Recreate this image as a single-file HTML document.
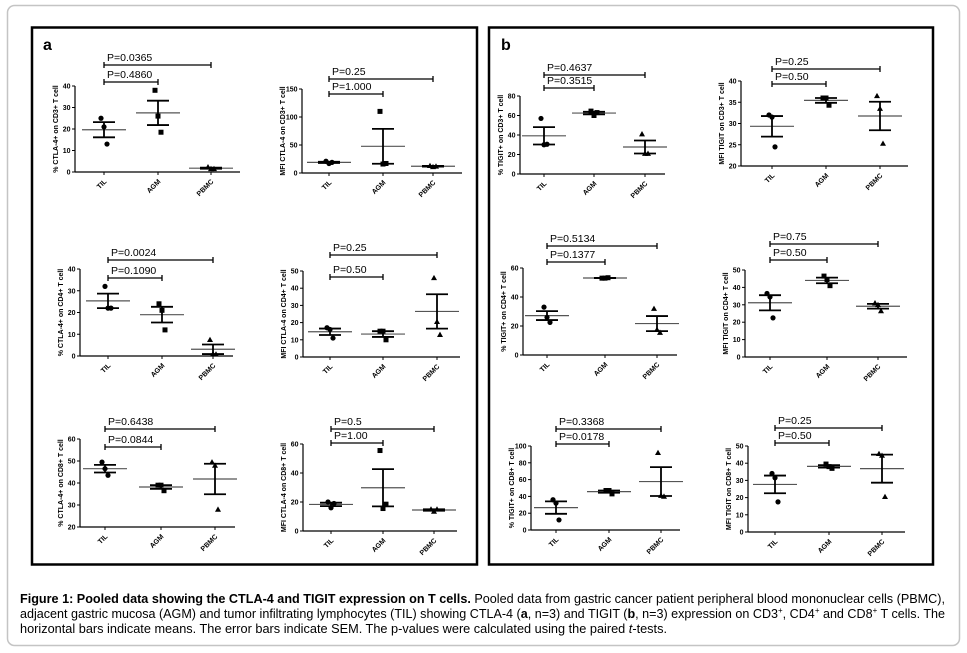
<!DOCTYPE html>
<html><head><meta charset="utf-8"><style>
body{margin:0;background:#fff;}
svg{display:block;font-family:"Liberation Sans",Arial,sans-serif;}
.tk{font-size:7px;font-weight:bold;}
.pv{font-size:10.5px;}
.cap{font-size:12.6px;}
</style></head><body>
<svg id="fig" width="967" height="653" viewBox="0 0 967 653">
<rect x="7.5" y="5.5" width="952" height="640" rx="7" fill="none" stroke="#c4c4c4" stroke-width="1.5"/>
<rect x="32" y="27.5" width="445" height="537" fill="none" stroke="#000" stroke-width="2.5"/>
<rect x="489" y="27.5" width="444" height="537" fill="none" stroke="#000" stroke-width="2.5"/>
<text x="43" y="50" font-size="16" font-weight="bold">a</text>
<text x="501" y="50" font-size="16" font-weight="bold">b</text>
<g id="plots"></g>
<text class="cap" x="20" y="603" textLength="925" lengthAdjust="spacingAndGlyphs"><tspan font-weight="bold">Figure 1: Pooled data showing the CTLA-4 and TIGIT expression on T cells.</tspan> Pooled data from gastric cancer patient peripheral blood mononuclear cells (PBMC),</text>
<text class="cap" x="20" y="618" textLength="925" lengthAdjust="spacingAndGlyphs">adjacent gastric mucosa (AGM) and tumor infiltrating lymphocytes (TIL) showing CTLA-4 (<tspan font-weight="bold">a</tspan>, n=3) and TIGIT (<tspan font-weight="bold">b</tspan>, n=3) expression on CD3<tspan font-size="8" dy="-5">+</tspan><tspan dy="5">, CD4</tspan><tspan font-size="8" dy="-5">+</tspan><tspan dy="5"> and CD8</tspan><tspan font-size="8" dy="-5">+</tspan><tspan dy="5"> T cells. The</tspan></text>
<text class="cap" x="20" y="633" textLength="647" lengthAdjust="spacingAndGlyphs">horizontal bars indicate means. The error bars indicate SEM. The p-values were calculated using the paired <tspan font-style="italic">t</tspan>-tests.</text>
</svg>
<script>
const categories = ["TIL","AGM","PBMC"];
// data values per panel: [TIL points, AGM points, PBMC points]
const a1Values = [[25,21,13],[38,26,18.5],[2.3,1.5,1.5]];
const a2Values = [[21,17,19],[110,16,17],[13,11,12]];
const a3Values = [[32,22,22],[24,21,12],[7.5,1,0.8]];
const a4Values = [[17,16,11],[15,15,10],[46,20.5,13]];
const a5Values = [[49.5,46.5,43.5],[39,39,36.5],[49.5,48,28]];
const a6Values = [[20,16,19],[55.5,15.5,18.5],[15,13.5,15]];
const b1Values = [[57,30,30.5],[64.5,60,63],[41,21,21]];
const b2Values = [[32,31.5,24.5],[36,36,34.3],[36.5,33.5,25.3]];
const b3Values = [[33,26,22.5],[53,53,53.3],[32,17.5,15.5]];
const b4Values = [[36.5,34.5,22.5],[46.5,44.5,41],[31,30,26.5]];
const b5Values = [[36,32,12],[47,47,43],[92,41,40]];
const b6Values = [[34,31.5,17.5],[39.5,38,37],[45.5,44.5,20.5]];
// y tick labels
const a1Ticks=[0,10,20,30,40], a2Ticks=[0,50,100,150], a3Ticks=[0,10,20,30,40], a4Ticks=[0,10,20,30,40,50];
const a5Ticks=[20,30,40,50,60], a6Ticks=[0,20,40,60], b1Ticks=[0,20,40,60,80], b2Ticks=[20,25,30,35,40];
const b3Ticks=[0,20,40,60], b4Ticks=[0,10,20,30,40,50], b5Ticks=[0,20,40,60,80,100], b6Ticks=[0,10,20,30,40,50];
// p-values: [TIL vs AGM, TIL vs PBMC]
const a1P=["P=0.4860","P=0.0365"], a2P=["P=1.000","P=0.25"], a3P=["P=0.1090","P=0.0024"], a4P=["P=0.50","P=0.25"];
const a5P=["P=0.0844","P=0.6438"], a6P=["P=1.00","P=0.5"], b1P=["P=0.3515","P=0.4637"], b2P=["P=0.50","P=0.25"];
const b3P=["P=0.1377","P=0.5134"], b4P=["P=0.50","P=0.75"], b5P=["P=0.0178","P=0.3368"], b6P=["P=0.50","P=0.25"];
const titles = {
 a1:"% CTLA-4+ on CD3+ T cell", a2:"MFI CTLA-4 on CD3+ T cell", a3:"% CTLA-4+ on CD4+ T cell",
 a4:"MFI CTLA-4 on CD4+ T cell", a5:"% CTLA-4+ on CD8+ T cell", a6:"MFI CTLA-4 on CD8+ T cell",
 b1:"% TIGIT+ on CD3+ T cell", b2:"MFI TIGIT on CD3+ T cell", b3:"% TIGIT+ on CD4+ T cell",
 b4:"MFI TIGIT on CD4+ T cell", b5:"% TIGIT+ on CD8+ T cell", b6:"MFI TIGIT on CD8+ T cell"};

// layout (pixel geometry)
const layout = [
 {id:"a1",v:a1Values,t:a1Ticks,p:a1P,ax:75,yT:86,y0:172,cx:[104,158,211],xe:240,b1:82,b2:65},
 {id:"a2",v:a2Values,t:a2Ticks,p:a2P,ax:302,yT:89,y0:173,cx:[329,383,433],xe:462,b1:94,b2:79},
 {id:"a3",v:a3Values,t:a3Ticks,p:a3P,ax:80,yT:269,y0:356,cx:[108,162,213],xe:233,b1:278,b2:260},
 {id:"a4",v:a4Values,t:a4Ticks,p:a4P,ax:303,yT:271,y0:357,cx:[330,383,437],xe:460,b1:277,b2:255},
 {id:"a5",v:a5Values,t:a5Ticks,p:a5P,ax:80,yT:439,y0:527,cx:[105,161,215],xe:235,b1:447,b2:429},
 {id:"a6",v:a6Values,t:a6Ticks,p:a6P,ax:303,yT:444,y0:531,cx:[331,383,434],xe:457,b1:443,b2:429},
 {id:"b1",v:b1Values,t:b1Ticks,p:b1P,ax:520,yT:96,y0:174,cx:[544,594,645],xe:665,b1:88,b2:75},
 {id:"b2",v:b2Values,t:b2Ticks,p:b2P,ax:741,yT:81,y0:166,cx:[772,826,880],xe:908,b1:84,b2:69},
 {id:"b3",v:b3Values,t:b3Ticks,p:b3P,ax:523,yT:268,y0:355,cx:[547,605,657],xe:677,b1:262,b2:246},
 {id:"b4",v:b4Values,t:b4Ticks,p:b4P,ax:745,yT:270,y0:357,cx:[770,827,878],xe:907,b1:260,b2:244},
 {id:"b5",v:b5Values,t:b5Ticks,p:b5P,ax:531,yT:446,y0:530,cx:[556,609,661],xe:680,b1:444,b2:429},
 {id:"b6",v:b6Values,t:b6Ticks,p:b6P,ax:748,yT:446,y0:532,cx:[775,829,882],xe:905,b1:443,b2:428}
];
const NS="http://www.w3.org/2000/svg";
const root=document.getElementById("plots");
function mk(tag,attrs,parent){const e=document.createElementNS(NS,tag);for(const k in attrs)e.setAttribute(k,attrs[k]);parent.appendChild(e);return e;}
const jit=[-3,0,3];
layout.forEach(L=>{
  const g=mk("g",{},root);
  
  
  const tMin=L.t[0], tMax=L.t[L.t.length-1];
  const y=v=>L.y0-(v-tMin)/(tMax-tMin)*(L.y0-L.yT);
  const ya=mk("line",{x1:L.ax,y1:L.yT,x2:L.ax,y2:L.y0,stroke:"#000","stroke-width":1.2},g);
  
  
  const xa=mk("line",{x1:L.ax,y1:L.y0,x2:L.xe,y2:L.y0,stroke:"#000","stroke-width":1.2},g);
  
  
  L.t.forEach(tv=>{
    mk("line",{x1:L.ax-3,y1:y(tv),x2:L.ax,y2:y(tv),stroke:"#000","stroke-width":1},g);
    const tt=mk("text",{x:L.ax-4.5,y:y(tv)+2.5,"text-anchor":"end",class:"tk"},g);
    tt.textContent=tv;
    
    
  });
  const my=(L.yT+L.y0)/2, tx=L.ax-17;
  const yt=mk("text",{x:tx,y:my,transform:`rotate(-90 ${tx} ${my})`,"text-anchor":"middle",class:"tk"},g);
  yt.textContent=titles[L.id];
  
  
  categories.forEach((c,i)=>{
    const cx=L.cx[i];
    mk("line",{x1:cx,y1:L.y0,x2:cx,y2:L.y0+3,stroke:"#000","stroke-width":1},g);
    const lx=cx+3, ly=L.y0+10;
    const ct=mk("text",{x:lx,y:ly,transform:`rotate(-45 ${lx} ${ly})`,"text-anchor":"end",class:"tk"},g);
    ct.textContent=c;
    
    
    const vals=L.v[i];
    const n=vals.length, mean=vals.reduce((a,b)=>a+b,0)/n;
    const sd=Math.sqrt(vals.reduce((a,b)=>a+(b-mean)*(b-mean),0)/(n-1));
    const sem=sd/Math.sqrt(n);
    const ml=mk("line",{x1:cx-22,y1:y(mean),x2:cx+22,y2:y(mean),stroke:"#555","stroke-width":1.2},g);
    
    
    const eb=mk("path",{d:`M${cx} ${y(mean+sem)}V${y(mean-sem)}M${cx-11} ${y(mean+sem)}H${cx+11}M${cx-11} ${y(mean-sem)}H${cx+11}`,stroke:"#000","stroke-width":1.8,fill:"none"},g);
    
    
    vals.forEach((v,k)=>{
      const px=cx+jit[k], py=y(v);
      let m;
      if(i===0) m=mk("circle",{cx:px,cy:py,r:2.6,fill:"#000"},g);
      else if(i===1) m=mk("rect",{x:px-2.5,y:py-2.5,width:5,height:5,fill:"#000"},g);
      else m=mk("path",{d:`M${px} ${py-3}L${px+3} ${py+2.3}L${px-3} ${py+2.3}Z`,fill:"#000"},g);
      
      
    });
  });
  [[L.cx[1],L.b1,L.p[0]],[L.cx[2],L.b2,L.p[1]]].forEach(([x2,by,lab])=>{
    const x1=L.cx[0];
    const br=mk("path",{d:`M${x1} ${by}H${x2}M${x1} ${by-3}V${by+3}M${x2} ${by-3}V${by+3}`,stroke:"#000","stroke-width":1.3,fill:"none"},g);
    
    
    const pt=mk("text",{x:x1+3,y:by-4,class:"pv"},g);
    pt.textContent=lab;
    
    
  });
});
</script>
</body></html>
